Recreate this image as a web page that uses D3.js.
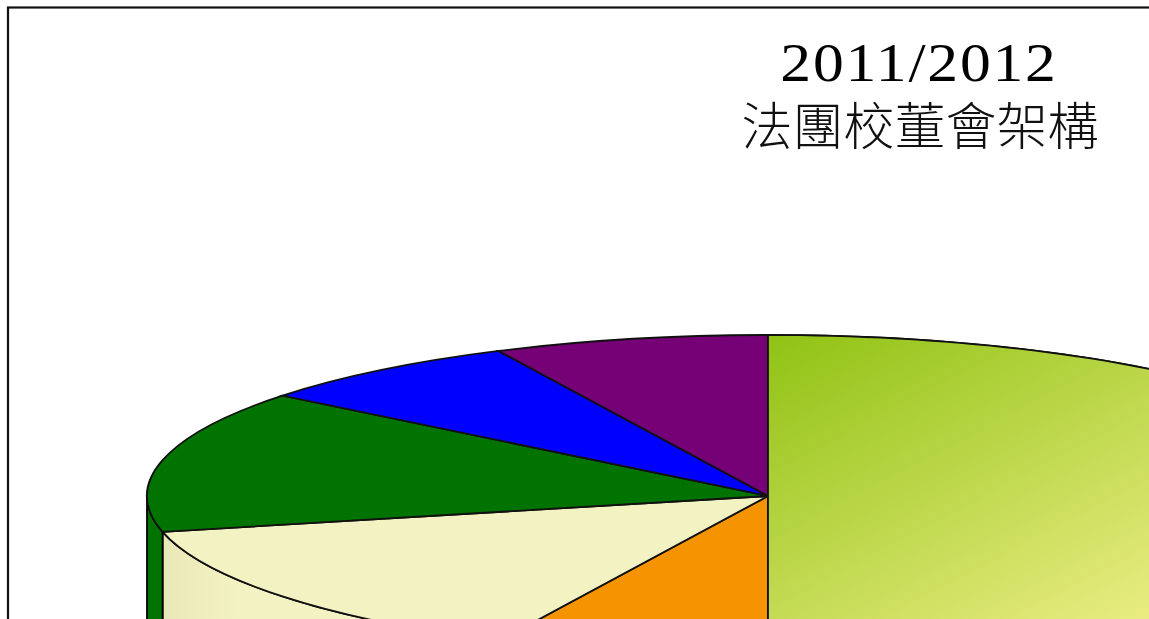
<!DOCTYPE html>
<html>
<head>
<meta charset="utf-8">
<script src="https://cdn.jsdelivr.net/npm/d3@7"></script>
<style>
html, body { margin: 0; padding: 0; background: #fff; overflow: hidden; }
svg { display: block; }
</style>
</head>
<body>
<svg id="chart" width="1149" height="619"></svg>
<script>
// seats on the board, clockwise from 12 o'clock
const seats = [7, 1, 2, 2, 1, 1];
const sliceColors = ['url(#faceLime)', '#f59300', '#f2f2c2', '#007300', '#0000ff', '#760076'];
const wallColors = ['#c8d850', '#d98200', 'url(#wallCream)', '#007300', '#0000ff', '#760076'];
const titleLines = ['2011/2012', '法團校董會架構'];

const width = 1149, height = 619;
const cx = 768, cy = 496, rx = 621, ry = 161, depth = 170;

let svg = d3.select('#chart');

let defs = svg.append('defs');
let lime = defs.append('linearGradient').attr('id', 'faceLime')
    .attr('gradientUnits', 'userSpaceOnUse')
    .attr('x1', 770).attr('y1', 335).attr('x2', 966).attr('y2', 709);
lime.append('stop').attr('offset', 0).attr('stop-color', '#90c214');
lime.append('stop').attr('offset', 1).attr('stop-color', '#e8ec80');
let cream = defs.append('linearGradient').attr('id', 'wallCream')
    .attr('gradientUnits', 'userSpaceOnUse')
    .attr('x1', 163).attr('y1', 0).attr('x2', 240).attr('y2', 0);
cream.append('stop').attr('offset', 0).attr('stop-color', '#ebe8b8');
cream.append('stop').attr('offset', 1).attr('stop-color', '#f2f2c2');

let pie = d3.pie().sort(null).value(d => d);
let slices = pie(seats);

// point on the rim for a pie angle
let rimX = d3.scaleLinear().domain([-1, 1]).range([cx - rx, cx + rx]);
let rimY = d3.scaleLinear().domain([-1, 1]).range([cy - ry, cy + ry]);
let rim = a => [rimX(Math.sin(a)), rimY(-Math.cos(a))];

// side walls, only the front half of the rim can be seen
let walls = slices.map((d, i) => {
    let a0 = Math.max(d.startAngle, Math.PI / 2);
    let a1 = Math.min(d.endAngle, 3 * Math.PI / 2);
    if (a1 <= a0) return null;
    let top = d3.range(0, 61).map(k => rim(a0 + (a1 - a0) * k / 60));
    let bottom = top.map(p => [p[0], p[1] + depth]).reverse();
    return {pts: top.concat(bottom), color: wallColors[i]};
}).filter(d => d);

svg.append('g').selectAll('path')
    .data(walls)
    .enter().append('path')
    .attr('d', d => d3.line()(d.pts) + 'Z')
    .attr('fill', d => d.color)
    .attr('stroke', '#000')
    .attr('stroke-width', 1.8);

// top face, a circle squashed into an ellipse
let arc = d3.arc().innerRadius(0).outerRadius(rx);
svg.append('g')
    .selectAll('path')
    .data(slices)
    .enter().append('path')
    .attr('d', arc)
    .attr('transform', `translate(${cx},${cy}) scale(1,${ry / rx})`)
    .attr('fill', (d, i) => i === 0 ? '#90c214' : sliceColors[i])
    .attr('stroke', '#111')
    .attr('stroke-width', 1.8)
    .attr('vector-effect', 'non-scaling-stroke');

// the lime face carries its gradient in page coordinates
svg.append('path')
    .attr('d', d3.line()(d3.range(0, 121).map(k => rim(slices[0].startAngle + (slices[0].endAngle - slices[0].startAngle) * k / 120)).concat([[cx, cy]])) + 'Z')
    .attr('fill', sliceColors[0])
    .attr('stroke', '#111')
    .attr('stroke-width', 1.8);

// frame
svg.append('rect')
    .attr('x', 8).attr('y', 7.5)
    .attr('width', width + 40).attr('height', height + 40)
    .attr('fill', 'none')
    .attr('stroke', '#111')
    .attr('stroke-width', 2.2);

// the original digits are wider than Liberation Serif, stretch them
svg.append('text')
    .attr('transform', 'translate(919,81) scale(1.14,1)')
    .attr('text-anchor', 'middle')
    .attr('font-family', '"Liberation Serif", serif')
    .attr('font-size', 54)
    .attr('letter-spacing', 1.6)
    .attr('fill', '#000')
    .text(titleLines[0]);

svg.append('text')
    .attr('x', 920).attr('y', 145)
    .attr('text-anchor', 'middle')
    .attr('font-family', '"Noto Sans CJK TC", sans-serif')
    .attr('font-size', 51)
    .attr('font-weight', 300)
    .attr('fill', '#111')
    .text(titleLines[1]);
</script>
</body>
</html>
